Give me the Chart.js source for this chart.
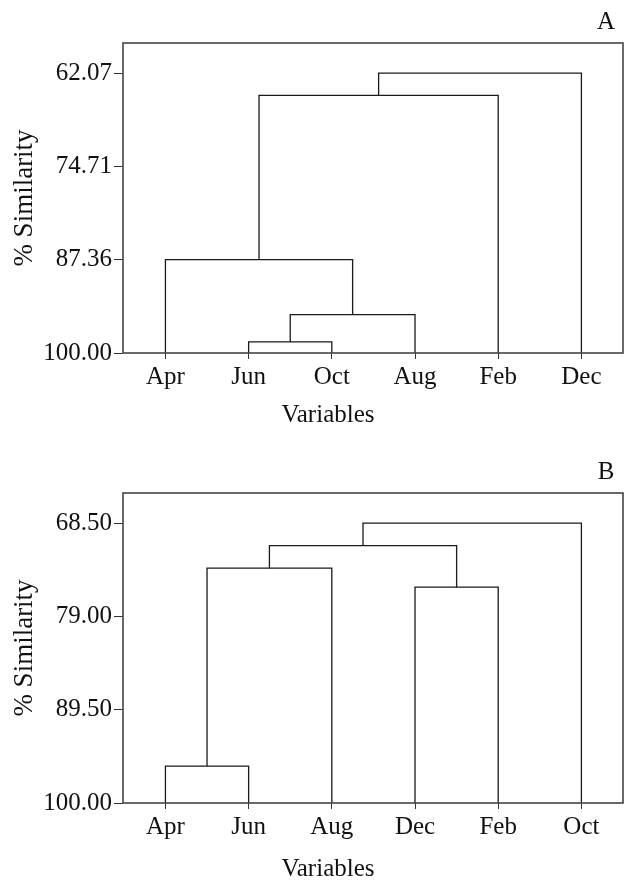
<!DOCTYPE html>
<html>
<head>
<meta charset="utf-8">
<script src="https://cdn.jsdelivr.net/npm/chart.js@4.4.0/dist/chart.umd.min.js"></script>
<style>
  body { margin: 0; background: #fff; }
  canvas { display: block; }
</style>
</head>
<body>
<canvas id="dendroA" width="627" height="450"></canvas>
<canvas id="dendroB" width="627" height="432"></canvas>
<script>
// data
const varsA = ['Apr', 'Jun', 'Oct', 'Aug', 'Feb', 'Dec'];
const pairsA = [[1, 2], [6, 3], [0, 7], [8, 4], [9, 5]];   // ids >= 6 are earlier clusters
const heightsA = [98.5, 94.8, 87.36, 65.1, 62.07];
const ticksA = [62.07, 74.71, 87.36, 100.00];

const varsB = ['Apr', 'Jun', 'Aug', 'Dec', 'Feb', 'Oct'];
const pairsB = [[0, 1], [6, 2], [3, 4], [7, 8], [9, 5]];
const heightsB = [95.86, 73.58, 75.72, 71.03, 68.5];
const ticksB = [68.50, 79.00, 89.50, 100.00];

const FONT = "'Liberation Serif', 'Times New Roman', serif";
const INK = '#111';

// one dataset (4 points) for every join
function buildLinks(n, pairs, heights) {
    const nodes = [];
    for (let i = 0; i < n; i++) nodes.push({ x: i, y: 100 });

    return pairs.map(([a, b], k) => {
        const h = heights[k];
        const p = nodes[a];
        const q = nodes[b];
        nodes.push({ x: (p.x + q.x) / 2, y: h });
        return {
            data: [{ x: p.x, y: p.y }, { x: p.x, y: h }, { x: q.x, y: h }, { x: q.x, y: q.y }],
            showLine: true,
            borderColor: '#1a1a1a',
            borderWidth: 1.3,
            pointRadius: 0,
            tension: 0,
            fill: false
        };
    });
}

// frame + panel letter + "Variables"
const extras = {
    id: 'extras',
    afterDraw(chart, args, opts) {
        const { ctx, chartArea } = chart;
        ctx.save();
        ctx.strokeStyle = '#444';
        ctx.lineWidth = 1.6;
        ctx.strokeRect(chartArea.left, chartArea.top, chartArea.right - chartArea.left, chartArea.bottom - chartArea.top);

        ctx.fillStyle = INK;
        ctx.font = '25px ' + FONT;
        ctx.textBaseline = 'alphabetic';
        ctx.textAlign = 'center';
        ctx.fillText(opts.letter, 606, 29);
        ctx.fillText('Variables', opts.titleX, opts.titleY);
        ctx.restore();
    }
};

function makeDendrogram(id, vars, pairs, heights, ticks, yMin, letter, titleY) {
    new Chart(document.getElementById(id), {
        type: 'scatter',
        data: { datasets: buildLinks(vars.length, pairs, heights) },
        plugins: [extras],
        options: {
            responsive: false,
            animation: false,
            layout: { padding: { top: 43, right: 4, left: 0, bottom: 0 } },
            plugins: {
                legend: { display: false },
                tooltip: { enabled: false },
                extras: { letter: letter, titleX: 328, titleY: titleY }
            },
            scales: {
                x: {
                    type: 'linear',
                    min: -0.51,
                    max: 5.5,
                    afterBuildTicks: (s) => { s.ticks = vars.map((v, i) => ({ value: i })); },
                    afterFit: (s) => { s.height = s.chart.height - 353; },
                    ticks: {
                        callback: (v) => vars[v],
                        color: INK,
                        font: { family: FONT, size: 25 },
                        padding: 3,
                        maxRotation: 0,
                        autoSkip: false
                    },
                    grid: { drawOnChartArea: false, drawTicks: true, tickLength: 6, color: '#333' },
                    border: { display: false }
                },
                y: {
                    type: 'linear',
                    reverse: true,
                    min: yMin,
                    max: 100,
                    afterBuildTicks: (s) => { s.ticks = ticks.map(v => ({ value: v })); },
                    afterFit: (s) => { s.width = 123; },
                    ticks: {
                        callback: (v) => v.toFixed(2),
                        color: INK,
                        font: { family: FONT, size: 25 },
                        padding: 2,
                        autoSkip: false
                    },
                    grid: { drawOnChartArea: false, drawTicks: true, tickLength: 9, color: '#333' },
                    border: { display: false },
                    title: {
                        display: true,
                        text: '% Similarity',
                        color: INK,
                        font: { family: FONT, size: 27 },
                        padding: { top: 9, bottom: 0 }
                    }
                }
            }
        }
    });
}

document.addEventListener('DOMContentLoaded', () => {
    makeDendrogram('dendroA', varsA, pairsA, heightsA, ticksA, 58.0, 'A', 422);
    makeDendrogram('dendroB', varsB, pairsB, heightsB, ticksB, 65.12, 'B', 426);
});
</script>
</body>
</html>
